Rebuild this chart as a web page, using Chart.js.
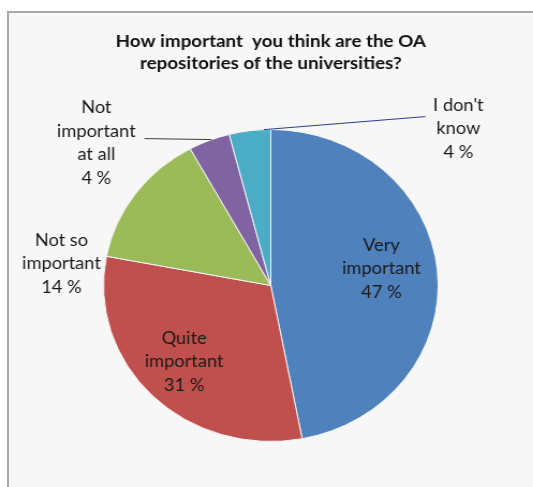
<!DOCTYPE html>
<html lang="en">

<head>
  <meta charset="UTF-8">
  <title>OA repositories</title>
  <script src="https://cdn.jsdelivr.net/npm/chart.js"></script>
  <style>
    html, body { margin: 0; padding: 0; background: #fff; overflow: hidden; }
    .frame {
      position: absolute; left: 7px; top: 11px; width: 600px; height: 600px;
      border-left: 2px solid #a9a9a9; border-top: 2px solid #a9a9a9;
      background: #f7f7f7;
    }
    .stretch {
      position: absolute; left: 0; top: 0;
      transform: scaleX(1.0725); transform-origin: 0 0;
    }
  </style>
</head>

<body>
  <div class="frame"></div>
  <div class="stretch">
    <canvas id="pieChart" width="497" height="487"></canvas>
  </div>
  <script>
    const titleLines = ['How important  you think are the OA', 'repositories of the universities?'];
    const categories = ['Very important', 'Quite important', 'Not so important', 'Not important at all', "I don't know"];
    const values = [47, 31, 14, 4, 4];
    const labelLines = [
      ['Very', 'important'],
      ['Quite', 'important'],
      ['Not so', 'important'],
      ['Not', 'important', 'at all'],
      ["I don't", 'know']
    ];
    const colors = ['#4f81bd', '#c0504d', '#9bbb59', '#8064a2', '#4bacc6'];

    // where each label sits: angle shift from slice middle (deg) and radius factor
    const placement = [
      { dA: -3.7, r: 0.67 },
      { dA: 1.7, r: 0.712 },
      { dA: -29.7, r: 1.259 },
      { dA: -27.2, r: 1.386 },
      { dA: 55.3, r: 1.506 }
    ];
    // leader lines: angle shift on the rim, end offset from label centre, colour
    const leaders = {
      3: { dA: 0.9, dx: 44.8, dy: -4.5, color: '#404040' },
      4: { dA: 4.8, dx: -30.8, dy: -12, color: '#253f8f' }
    };

    const labelPlugin = {
      id: 'pieLabels',
      afterDatasetsDraw(chart) {
        const ctx = chart.ctx;
        const arcs = chart.getDatasetMeta(0).data;
        ctx.save();
        ctx.font = '17px Lato';
        ctx.fillStyle = '#1a1a1a';
        ctx.textAlign = 'center';
        ctx.textBaseline = 'middle';
        arcs.forEach((arc, i) => {
          const { x, y, startAngle, endAngle, outerRadius } = arc.getProps(['x', 'y', 'startAngle', 'endAngle', 'outerRadius'], true);
          const mid = (startAngle + endAngle) / 2;
          const p = placement[i];
          const a = mid + p.dA * Math.PI / 180;
          const cx = x + Math.cos(a) * outerRadius * p.r;
          const cy = y + Math.sin(a) * outerRadius * p.r;
          const lines = labelLines[i].concat([values[i] + ' %']);
          const lh = 23.5;
          const top = cy - (lines.length - 1) * lh / 2;
          lines.forEach((t, k) => ctx.fillText(t, cx, top + k * lh));

          const ld = leaders[i];
          if (ld) {
            const la = mid + ld.dA * Math.PI / 180;
            ctx.beginPath();
            ctx.strokeStyle = ld.color;
            ctx.lineWidth = 1;
            ctx.moveTo(x + Math.cos(la) * outerRadius, y + Math.sin(la) * outerRadius);
            ctx.lineTo(cx + ld.dx, cy + ld.dy);
            ctx.stroke();
          }
        });
        ctx.restore();
      }
    };

    new Chart(document.getElementById('pieChart'), {
      type: 'pie',
      data: {
        labels: categories,
        datasets: [{
          data: values,
          backgroundColor: colors,
          borderColor: '#f4f4f4',
          borderWidth: 1
        }]
      },
      options: {
        responsive: false,
        devicePixelRatio: 1,
        animation: false,
        layout: { padding: { left: 8, right: 0, top: 0, bottom: 45 } },
        plugins: {
          legend: { display: false },
          tooltip: { enabled: false },
          title: {
            display: true,
            text: titleLines,
            color: '#111',
            font: { family: 'Lato', size: 17.5, weight: 'bold', lineHeight: 22 / 17.5 },
            padding: { top: 30, bottom: 55 }
          }
        }
      },
      plugins: [labelPlugin]
    });
  </script>
</body>

</html>
